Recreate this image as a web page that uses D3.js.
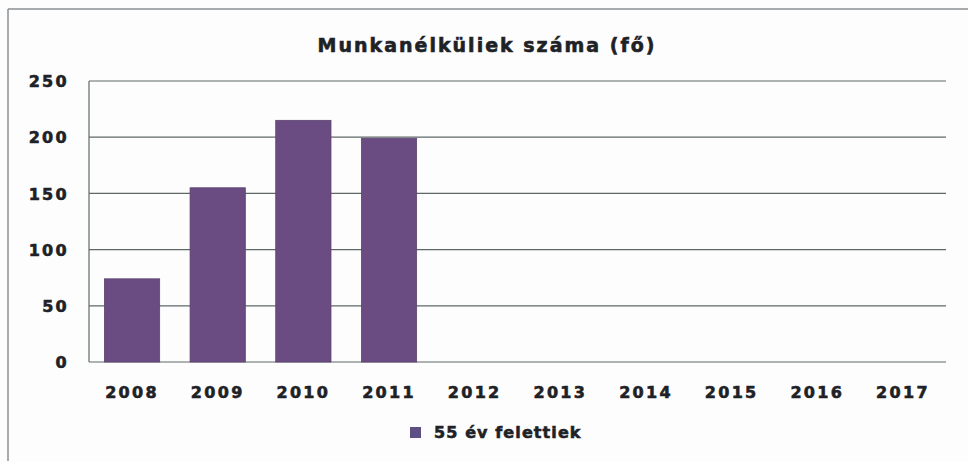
<!DOCTYPE html>
<html lang="hu">
<head>
    <meta charset="UTF-8">
    <title>Munkanélküliek száma (fő)</title>
    <script src="https://d3js.org/d3.v7.min.js"></script>
    <style>
        body {
            margin: 0;
            background: #fdfdfd;
        }

        text {
            font-family: "DejaVu Sans", sans-serif;
            font-weight: bold;
            fill: #1e2226;
            stroke: #1e2226;
            stroke-width: 0.6px;
        }

        .grid line {
            stroke: #5f6868;
            stroke-width: 1.2;
        }

        .tick-label {
            font-size: 16px;
            letter-spacing: 2.3px;
        }
    </style>
</head>
<body>
    <svg id="chart"></svg>
    <script>
        const years = ["2008", "2009", "2010", "2011", "2012", "2013", "2014", "2015", "2016", "2017"];
        const values = [74, 155, 215, 199, null, null, null, null, null, null];
        const yTicks = [0, 50, 100, 150, 200, 250];
        const seriesName = "55 év felettiek";
        const chartTitle = "Munkanélküliek száma (fő)";

        const width = 968;
        const height = 461;
        const margin = { top: 81, right: 22, bottom: 99, left: 89 };
        const barColor = "#6a4b82";

        const svg = d3.select("#chart")
            .attr("width", width)
            .attr("height", height);

        // chart frame: only top and left edges show in the scan
        svg.append("line")
            .attr("x1", 8).attr("y1", 9)
            .attr("x2", width).attr("y2", 9)
            .attr("stroke", "#8a8f92")
            .attr("stroke-width", 1.5);
        svg.append("line")
            .attr("x1", 8).attr("y1", 9)
            .attr("x2", 8).attr("y2", height)
            .attr("stroke", "#8a8f92")
            .attr("stroke-width", 1.5);

        const x = d3.scaleBand()
            .domain(years)
            .range([margin.left, width - margin.right])
            .paddingInner(0.355)
            .paddingOuter(0.18);

        const y = d3.scaleLinear()
            .domain([0, 250])
            .range([height - margin.bottom, margin.top]);

        // horizontal gridlines
        svg.append("g")
            .attr("class", "grid")
            .selectAll("line")
            .data(yTicks)
            .enter().append("line")
            .attr("x1", margin.left)
            .attr("x2", width - margin.right)
            .attr("y1", d => y(d))
            .attr("y2", d => y(d));

        // left edge of plot area
        svg.append("g")
            .attr("class", "grid")
            .append("line")
            .attr("x1", margin.left)
            .attr("x2", margin.left)
            .attr("y1", y(250))
            .attr("y2", y(0));

        svg.selectAll(".bar")
            .data(years.map((d, i) => ({ year: d, value: values[i] })).filter(d => d.value != null))
            .enter().append("rect")
            .attr("class", "bar")
            .attr("x", d => x(d.year))
            .attr("y", d => y(d.value))
            .attr("width", x.bandwidth())
            .attr("height", d => y(0) - y(d.value))
            .attr("fill", barColor)
            .attr("stroke", "#5b4470")
            .attr("stroke-width", 0.8);

        // y axis labels
        const yAxis = svg.append("g")
            .attr("transform", `translate(${margin.left - 20},0)`)
            .call(d3.axisLeft(y).tickValues(yTicks).tickSize(0).tickPadding(0));
        yAxis.select(".domain").remove();
        yAxis.selectAll("text")
            .attr("class", "tick-label")
            .attr("fill", "#1e2226")
            .attr("dy", "0.36em");

        // x axis labels
        const xAxis = svg.append("g")
            .attr("transform", `translate(0,${y(0)})`)
            .call(d3.axisBottom(x).tickSize(0).tickPadding(24));
        xAxis.select(".domain").remove();
        xAxis.selectAll("text")
            .attr("class", "tick-label")
            .attr("fill", "#1e2226")
            .attr("dy", "0.36em")
            .attr("y", 30);

        svg.append("text")
            .attr("x", 487)
            .attr("y", 52)
            .attr("text-anchor", "middle")
            .attr("font-size", "19px")
            .attr("letter-spacing", "2px")
            .text(chartTitle);

        const legend = svg.append("g")
            .attr("transform", "translate(410,427)");
        legend.append("rect")
            .attr("width", 11)
            .attr("height", 11)
            .attr("fill", "#5e5085");
        legend.append("text")
            .attr("x", 24)
            .attr("y", 11)
            .attr("font-size", "16px")
            .attr("letter-spacing", "1.1px")
            .text(seriesName);
    </script>
</body>
</html>
